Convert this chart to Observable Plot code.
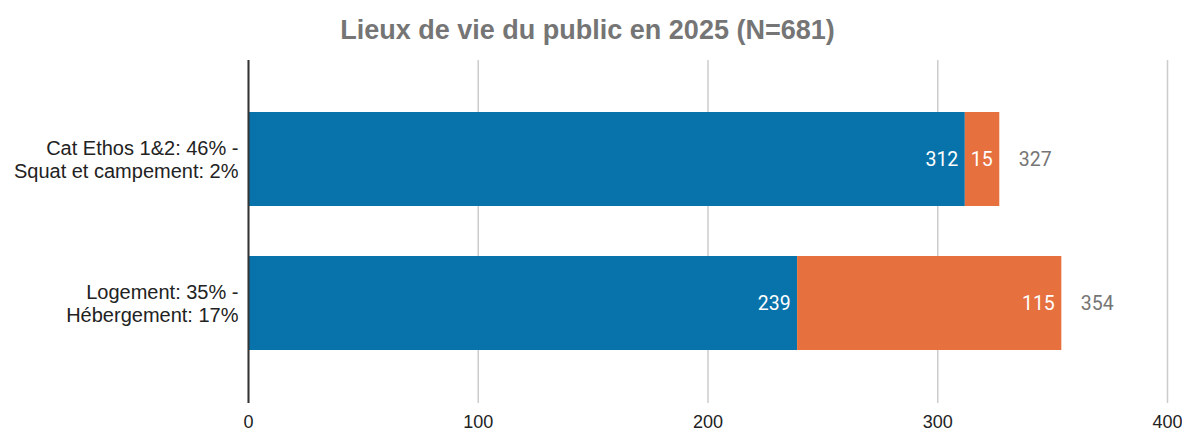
<!DOCTYPE html>
<html>
<head>
<meta charset="utf-8">
<script src="https://cdn.jsdelivr.net/npm/d3@7"></script>
<script src="https://cdn.jsdelivr.net/npm/@observablehq/plot@0.6"></script>
<style>
  html, body { margin: 0; padding: 0; background: #fff; }
  #title { height: 50px; width: 1182px; box-sizing: border-box; padding-top: 14px; padding-right: 7px; text-align: center;
    font-family: "Liberation Sans", Arial, sans-serif; font-weight: bold; font-size: 27px; color: #757575; line-height: 32px; }
</style>
</head>
<body>
<div id="title">Lieux de vie du public en 2025 (N=681)</div>
<div id="chart"></div>
<script>
const categories = ["Cat Ethos 1&2: 46% -\nSquat et campement: 2%", "Logement: 35% -\nHébergement: 17%"];
const seriesNames = ["Série 1", "Série 2"];
const series1 = [312, 239];
const series2 = [15, 115];
const xTicks = [0, 100, 200, 300, 400];
const colors = ["#0872AA", "#E6703E"];

const data = [];
categories.forEach((c, i) => {
  data.push({cat: c, series: seriesNames[0], value: series1[i]});
  data.push({cat: c, series: seriesNames[1], value: series2[i]});
});
const totals = categories.map((c, i) => ({cat: c, total: series1[i] + series2[i]}));

const chart = Plot.plot({
  width: 1182,
  height: 382,
  marginLeft: 248,
  marginRight: 15,
  marginTop: 10,
  marginBottom: 29,
  style: {fontFamily: "'Liberation Sans', Arial, sans-serif", fontSize: "18px", color: "#222", background: "#fff"},
  x: {domain: [0, 400], ticks: xTicks, label: null},
  y: {domain: categories, label: null, paddingInner: 0.345, paddingOuter: 0.359},
  color: {domain: seriesNames, range: colors},
  marks: [
    Plot.gridX(xTicks, {stroke: "#cccccc", strokeOpacity: 1, strokeWidth: 1.5}),
    Plot.axisX({ticks: xTicks, tickSize: 0, tickPadding: 12, fontSize: 18, fill: "#222", label: null}),
    Plot.axisY({tickSize: 0, tickPadding: 10, fontSize: 20, fill: "#222", lineHeight: 1.15, label: null}),
    Plot.barX(data, Plot.stackX({y: "cat", x: "value", fill: "series", order: seriesNames})),
    Plot.text(data, Plot.stackX2({y: "cat", x: "value", z: "series", order: seriesNames, text: d => String(d.value),
      textAnchor: "end", dx: -7, fill: "white", fontSize: 19.5, fontFamily: "Roboto, sans-serif"})),
    Plot.text(totals, {y: "cat", x: "total", text: d => String(d.total), textAnchor: "start", dx: 19,
      fill: "#757575", fontSize: 19.5, fontFamily: "Roboto, sans-serif"}),
    Plot.ruleX([0], {stroke: "#333", strokeWidth: 2})
  ]
});
document.getElementById("chart").appendChild(chart);
</script>
</body>
</html>
